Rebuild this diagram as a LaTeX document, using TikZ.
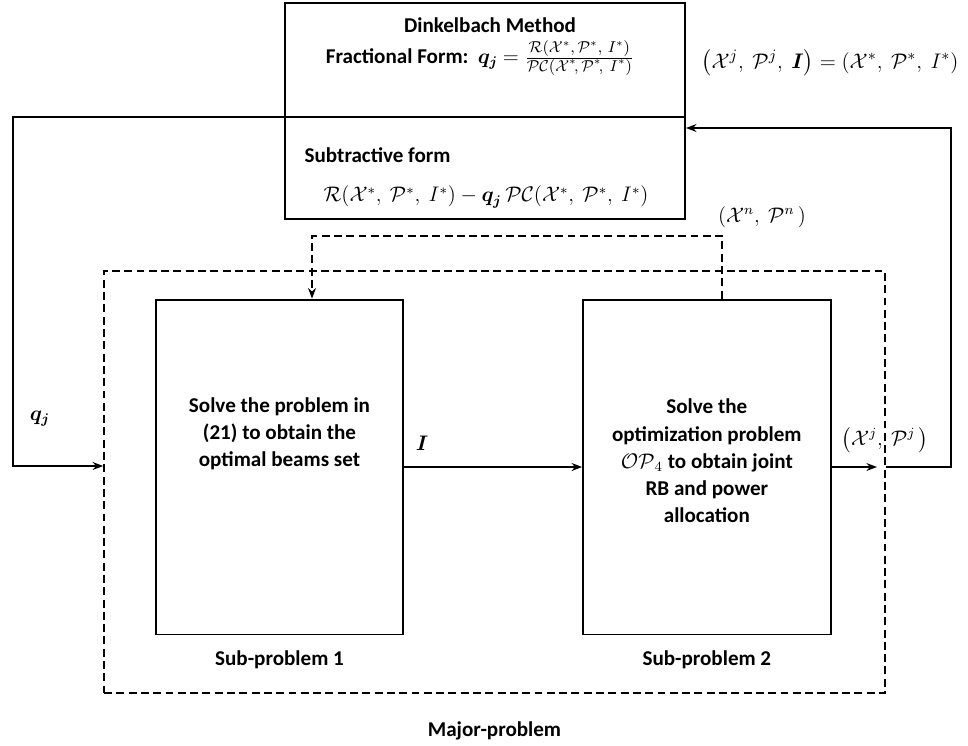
\documentclass[tikz,border=0pt]{standalone}
\usepackage{amsmath,amssymb}
\usepackage{fontspec}
\setmainfont{Carlito}
\usetikzlibrary{arrows.meta,positioning,calc}

\begin{document}
\begin{tikzpicture}[x=0.02cm, y=-0.02cm, >={Stealth[length=6pt,width=4.5pt]}, line width=1pt,
	   font=\fontsize{12}{15.5}\selectfont\bfseries, node distance=6mm,
	   bx/.style={draw, line width=1.1pt, minimum width=4.95cm, minimum height=6.7cm, align=center, inner sep=2pt},
	   dsh/.style={dash pattern=on 4.5pt off 2.5pt},
	   lbl/.style={inner sep=1pt, align=center}]
	  \useasboundingbox (0,0) rectangle (968,745);
	  \node[draw, line width=1.1pt, minimum width=8cm, minimum height=4.32cm] (T) at (485,111) {};
	  \node[lbl] (T1) at (490,25) {Dinkelbach Method};
	  \node[lbl] (T2) at (480,58) {Fractional Form:\ \ {\large$\boldsymbol{q_j}$} $=\frac{\mbox{\small$\mathcal{R}(\mathcal{X}^*,\mathcal{P}^*,\,I^*)$}}{\mbox{\small$\mathcal{PC}(\mathcal{X}^*\!,\mathcal{P}^*\!,\ I^*)$}}$};
	  \node[lbl, anchor=west] (T3) at (302,155) {Subtractive form};
	  \node[lbl] (T4) at (486,197) {$\mathcal{R}(\mathcal{X}^*,\ \mathcal{P}^*,\ I^*)-\boldsymbol{q_j}\,\mathcal{PC}(\mathcal{X}^*,\ \mathcal{P}^*,\ I^*)$};
	  \node[draw, dsh, minimum width=15.62cm, minimum height=8.44cm] (M) at (494.5,482) {};
	  \node[bx] (S1) at (279.5,467) {};
	  \node[lbl] (S1t) at (279.5,434) {Solve the problem in\\(21) to obtain the\\optimal beams set};
	  \node[bx, right=3.56cm of S1] (S2) {};
	  \node[lbl] (S2t) at ($(S2)+(0,-6)$) {Solve the\\optimization problem\\$\mathcal{OP}_4$ to obtain joint\\RB and power\\allocation};
	  \node[lbl, below=2.5mm of S1] (L1) {Sub-problem 1};
	  \node[lbl, below=2.5mm of S2] (L2) {Sub-problem 2};
	  \node[lbl, below=5mm of M] (L3) {Major-problem};
	  \coordinate (dl) at ($(T.west)+(0,6)$);
	  \coordinate (dr) at ($(T.east)+(0,6)$);
	  \draw (dl) -- (dr);
	  \coordinate (qc) at (13,466);
	  \draw[->] (dl) -| (qc) -- (qc -| M.west);
	  \draw[->] (S1) -- (S2);
	  \coordinate (xo) at (877,467);
	  \draw[->] (S2.east) -- (xo);
	  \coordinate (rc) at (951,128);
	  \draw[->] (M.east |- xo) -| (rc) -- (rc -| T.east);
	  \coordinate (f1) at (722,236);
	  \coordinate (f2) at (312,236);
	  \draw[dsh, ->] (S2.north -| f1) -- (f1) -- (f2) -- (S1.north -| f2);
	  \node[lbl] (qj) at (40,419) {\large$\boldsymbol{q_j}$};
	  \node[lbl] (iL) at (422,443) {$\boldsymbol{I}$};
	  \node[lbl] (xp) at (885,440) {$\big(\mathcal{X}^j,\ \mathcal{P}^j\,\big)$};
	  \node[lbl] (xn) at (762,217) {$(\mathcal{X}^n,\ \mathcal{P}^n\,)$};
	  \node[lbl] (eq) at (830,63) {\fontsize{12.5}{15}\selectfont$\big(\mathcal{X}^j,\ \mathcal{P}^j,\ \boldsymbol{I}\big) = (\mathcal{X}^*,\ \mathcal{P}^*,\ I^*)$};
	\end{tikzpicture}
\end{document}
